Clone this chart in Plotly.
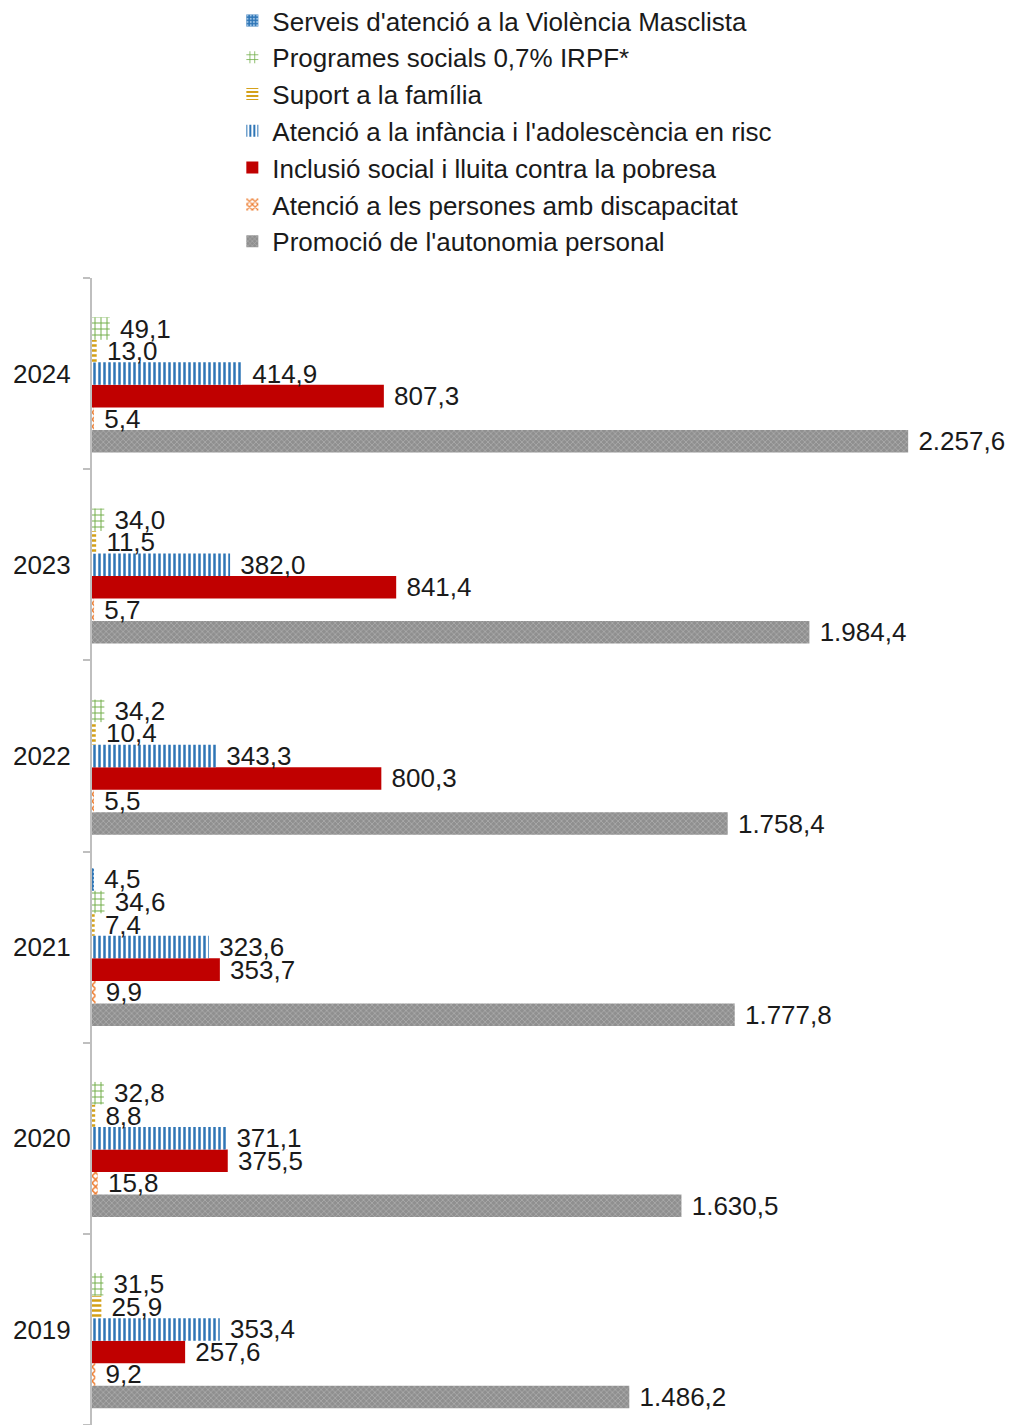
import plotly.graph_objects as go

# dades (milions d'euros)
anys = ['2019', '2020', '2021', '2022', '2023', '2024']

serveis_vm = [None, None, 4.5, None, None, None]
programes_irpf = [31.5, 32.8, 34.6, 34.2, 34.0, 49.1]
suport_familia = [25.9, 8.8, 7.4, 10.4, 11.5, 13.0]
infancia_risc = [353.4, 371.1, 323.6, 343.3, 382.0, 414.9]
inclusio_social = [257.6, 375.5, 353.7, 800.3, 841.4, 807.3]
discapacitat = [9.2, 15.8, 9.9, 5.5, 5.7, 5.4]
autonomia = [1486.2, 1630.5, 1777.8, 1758.4, 1984.4, 2257.6]

FONT = 'Liberation Sans, Arial, sans-serif'


def fmt(v):
    # format catala: 2.257,6
    if v is None:
        return ''
    s = f'{v:,.1f}'.replace(',', 'X').replace('.', ',').replace('X', '.')
    return '\u00a0' + s


# ordre de dibuix: el primer queda a baix dins de cada grup
series = [
    ("Promoció de l'autonomia personal", autonomia,
     dict(color='#8c8c8c', pattern=dict(shape='x', fgcolor='#b3b3b3', bgcolor='#8f8f8f', size=4, solidity=0.3, fillmode='replace'))),
    ("Atenció a les persones amb discapacitat", discapacitat,
     dict(color='#ED7D31', pattern=dict(shape='x', fgcolor='#ED7D31', bgcolor='white', size=5, solidity=0.5, fillmode='replace'))),
    ("Inclusió social i lluita contra la pobresa", inclusio_social,
     dict(color='#C00000')),
    ("Atenció a la infància i l'adolescència en risc", infancia_risc,
     dict(color='#2E75B6', pattern=dict(shape='|', fgcolor='#2E75B6', bgcolor='white', size=5, solidity=0.5, fillmode='replace'))),
    ("Suport a la família", suport_familia,
     dict(color='#D4A017', pattern=dict(shape='-', fgcolor='#D4A017', bgcolor='white', size=5, solidity=0.5, fillmode='replace'))),
    ("Programes socials 0,7% IRPF*", programes_irpf,
     dict(color='#70AD47', pattern=dict(shape='+', fgcolor='#70AD47', bgcolor='white', size=6, solidity=0.3, fillmode='replace'))),
    ("Serveis d'atenció a la Violència Masclista", serveis_vm,
     dict(color='#2E75B6', pattern=dict(shape='.', fgcolor='#9DC3E6', bgcolor='#2E75B6', size=4, solidity=0.3, fillmode='replace'))),
]

fig = go.Figure()
for nom, vals, mk in series:
    fig.add_trace(go.Bar(
        y=anys,
        x=vals,
        name=nom,
        orientation='h',
        marker=mk,
        marker_line_width=0,
        text=[fmt(v) for v in vals],
        textposition='outside',
        constraintext='none',
        cliponaxis=False,
        textfont=dict(family=FONT, size=26, color='#1a1a1a'),
    ))

fig.update_yaxes(
    showline=True,
    linecolor='#bfbfbf',
    linewidth=2,
    ticks='outside',
    tickson='boundaries',
    ticklen=7,
    tickcolor='#bfbfbf',
    tickwidth=2,
    ticklabelstandoff=14,
    tickfont=dict(family=FONT, size=26, color='#1a1a1a'),
    showgrid=False,
)
fig.update_xaxes(visible=False, range=[0, 2495], showgrid=False)

fig.update_layout(
    width=1006,
    height=1417,
    barmode='group',
    bargap=0.175,
    bargroupgap=0,
    paper_bgcolor='white',
    plot_bgcolor='white',
    margin=dict(l=84, r=20, t=270, b=0, autoexpand=False),
    font=dict(family=FONT, size=26, color='#1a1a1a'),
    legend=dict(
        traceorder='reversed',
        xref='container', yref='paper',
        x=0.223, y=1.245, xanchor='left', yanchor='top',
        font=dict(family=FONT, size=26, color='#1a1a1a'),
        bgcolor='rgba(0,0,0,0)',
    ),
)

fig.write_html("out.html")
